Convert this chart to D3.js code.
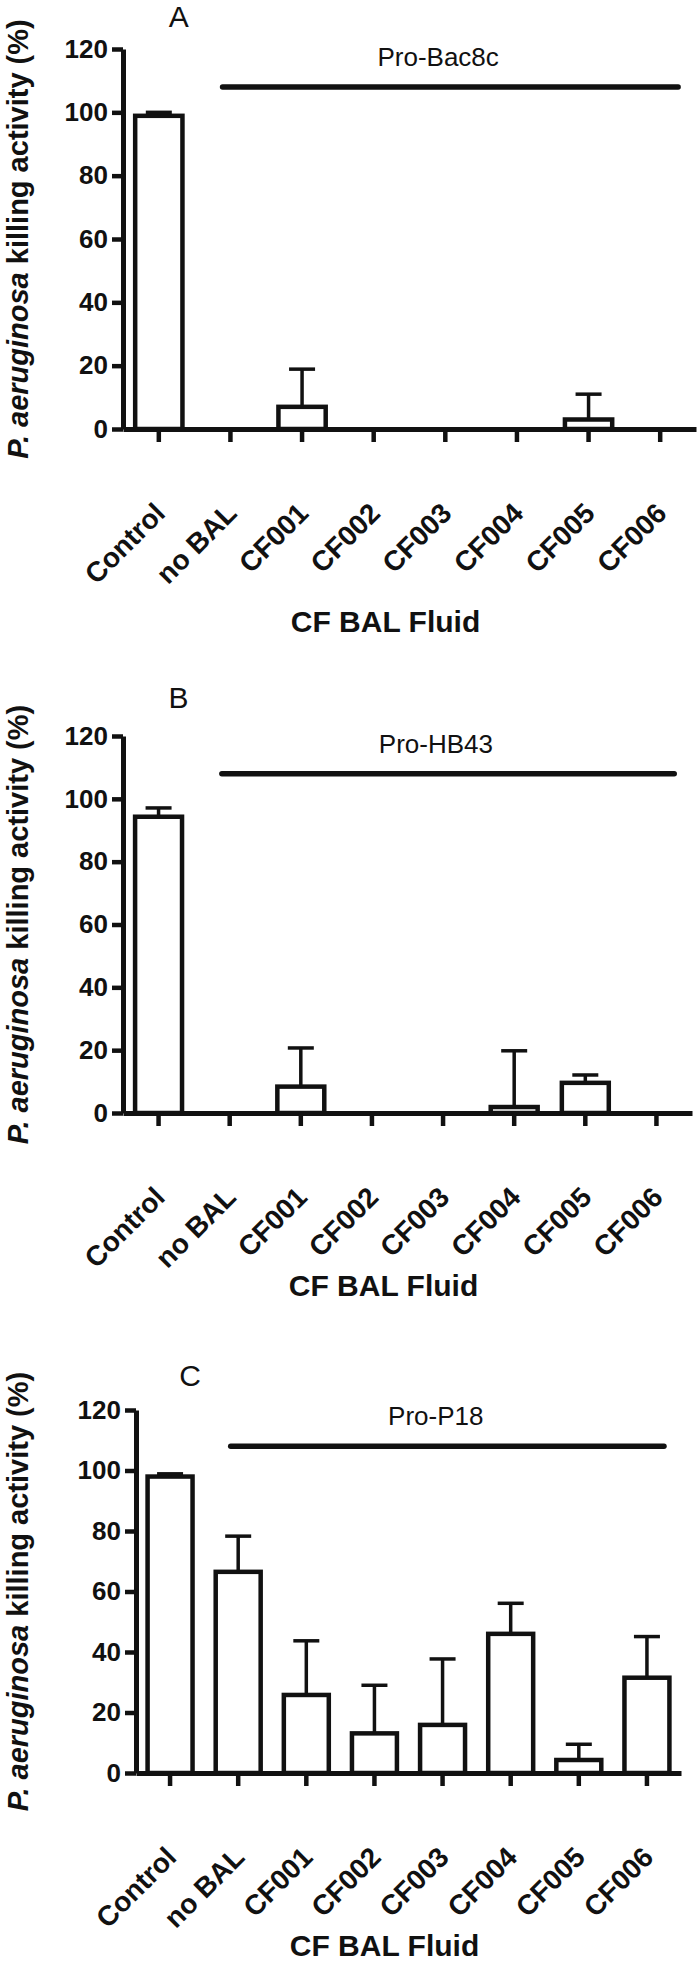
<!DOCTYPE html>
<html>
<head>
<meta charset="utf-8">
<script src="https://cdn.jsdelivr.net/npm/d3@7"></script>
<style>
  body { margin: 0; background: #fff; }
  svg text { font-family: "Liberation Sans", Arial, Helvetica, sans-serif; fill: #111; }
</style>
</head>
<body>
<svg id="chart" width="700" height="1965"></svg>
<script>
'use strict';

var categories = ["Control", "no BAL", "CF001", "CF002", "CF003", "CF004", "CF005", "CF006"];

// killing activity (%), mean and upper error (SD)
var bac8cMean = [98.9, 0, 7.0, 0, 0, 0, 3.0, 0];
var bac8cErr  = [1.1, 0, 11.9, 0, 0, 0, 8.0, 0];
var hb43Mean  = [94.3, 0, 8.4, 0, 0, 1.9, 9.6, 0];
var hb43Err   = [2.8, 0, 12.3, 0, 0, 17.9, 2.5, 0];
var p18Mean   = [98.0, 66.5, 25.8, 13.1, 15.9, 46.0, 4.3, 31.5];
var p18Err    = [0.9, 11.8, 17.9, 15.9, 21.8, 10.1, 5.2, 13.6];

var yTicks = [0, 20, 40, 60, 80, 100, 120];
var peptideLevel = 108;
var xTitle = "CF BAL Fluid";

var ink = "#111";

// where each panel sits on the page
var panels = [
    { letter: "A", peptide: "Pro-Bac8c", mean: bac8cMean, err: bac8cErr,
      left: 123, right: 696, top: 49, bottom: 429, letterY: 27, titleY: 632 },
    { letter: "B", peptide: "Pro-HB43", mean: hb43Mean, err: hb43Err,
      left: 123, right: 692, top: 736, bottom: 1113, letterY: 708, titleY: 1296 },
    { letter: "C", peptide: "Pro-P18", mean: p18Mean, err: p18Err,
      left: 136, right: 681, top: 1410, bottom: 1773, letterY: 1386, titleY: 1956 }
];

var svg = d3.select("#chart");

var drawPanel = function(p) {
    var g = svg.append("g");

    var x = d3.scaleBand()
        .domain(categories)
        .range([p.left, p.right])
        .paddingInner(0.34)
        .paddingOuter(0.17);

    var y = d3.scaleLinear()
        .domain([0, 120])
        .range([p.bottom, p.top]);

    var rows = categories.map(function(c, i) {
        return { cat: c, value: p.mean[i], err: p.err[i] };
    });

    var cx = function(d) { return x(d.cat) + x.bandwidth() / 2; };

    // bars
    g.selectAll("rect.bar")
        .data(rows)
        .enter()
        .append("rect")
        .attr("class", "bar")
        .attr("x", function(d) { return x(d.cat); })
        .attr("width", x.bandwidth())
        .attr("y", function(d) { return y(d.value); })
        .attr("height", function(d) { return y(0) - y(d.value); })
        .style("fill", "#fff")
        .style("stroke", ink)
        .style("stroke-width", 4.5);

    // upper error bars only
    var withErr = rows.filter(function(d) { return d.err > 0; });

    g.selectAll("line.err")
        .data(withErr)
        .enter()
        .append("line")
        .attr("class", "err")
        .attr("x1", cx)
        .attr("x2", cx)
        .attr("y1", function(d) { return y(d.value); })
        .attr("y2", function(d) { return y(d.value + d.err); })
        .style("stroke", ink)
        .style("stroke-width", 3.5);

    g.selectAll("line.cap")
        .data(withErr)
        .enter()
        .append("line")
        .attr("class", "cap")
        .attr("x1", function(d) { return cx(d) - 13; })
        .attr("x2", function(d) { return cx(d) + 13; })
        .attr("y1", function(d) { return y(d.value + d.err); })
        .attr("y2", function(d) { return y(d.value + d.err); })
        .style("stroke", ink)
        .style("stroke-width", 3.5);

    // y axis
    var yAxis = g.append("g")
        .attr("transform", "translate(" + p.left + ",0)")
        .call(d3.axisLeft(y).tickValues(yTicks).tickSize(11).tickSizeOuter(0).tickPadding(4));

    yAxis.select(".domain").style("stroke", ink).style("stroke-width", 5);
    yAxis.selectAll(".tick line").style("stroke", ink).style("stroke-width", 4.5);
    yAxis.selectAll(".tick text")
        .style("font-size", "26px")
        .style("font-weight", "bold");

    // x axis
    var xAxis = g.append("g")
        .attr("transform", "translate(0," + p.bottom + ")")
        .call(d3.axisBottom(x).tickSize(13).tickSizeOuter(0));

    xAxis.select(".domain").style("stroke", ink).style("stroke-width", 5);
    xAxis.selectAll(".tick line").style("stroke", ink).style("stroke-width", 4.5);
    xAxis.selectAll(".tick text")
        .attr("y", 0)
        .attr("dy", null)
        .attr("text-anchor", "end")
        .attr("transform", "translate(8,86) rotate(-45)")
        .style("font-size", "28px")
        .style("font-weight", "bold");

    // line over the peptide-treated groups
    var step = x.step();
    var x0 = x("no BAL") + x.bandwidth() / 2 - 0.11 * step;
    var x1 = x("CF006") + x.bandwidth() / 2 + 0.25 * step;

    g.append("line")
        .attr("x1", x0)
        .attr("x2", x1)
        .attr("y1", y(peptideLevel))
        .attr("y2", y(peptideLevel))
        .style("stroke", ink)
        .style("stroke-width", 5.5)
        .style("stroke-linecap", "round");

    g.append("text")
        .attr("x", x("CF003") + x.bandwidth() / 2 - 0.1 * step)
        .attr("y", y(peptideLevel) - 21)
        .attr("text-anchor", "middle")
        .style("font-size", "26px")
        .text(p.peptide);

    // panel letter
    g.append("text")
        .attr("x", x("Control") + x.bandwidth() / 2 + 20)
        .attr("y", p.letterY)
        .attr("text-anchor", "middle")
        .style("font-size", "30px")
        .text(p.letter);

    // axis titles
    g.append("text")
        .attr("x", (p.left + p.right) / 2 - 24)
        .attr("y", p.titleY)
        .attr("text-anchor", "middle")
        .style("font-size", "30px")
        .style("font-weight", "bold")
        .text(xTitle);

    var yt = g.append("text")
        .attr("transform", "translate(28," + (p.top + p.bottom) / 2 + ") rotate(-90)")
        .attr("text-anchor", "middle")
        .style("font-size", "29px")
        .style("font-weight", "bold");
    yt.append("tspan").style("font-style", "italic").text("P. aeruginosa");
    yt.append("tspan").text(" killing activity (%)");
};

panels.forEach(drawPanel);
</script>
</body>
</html>
